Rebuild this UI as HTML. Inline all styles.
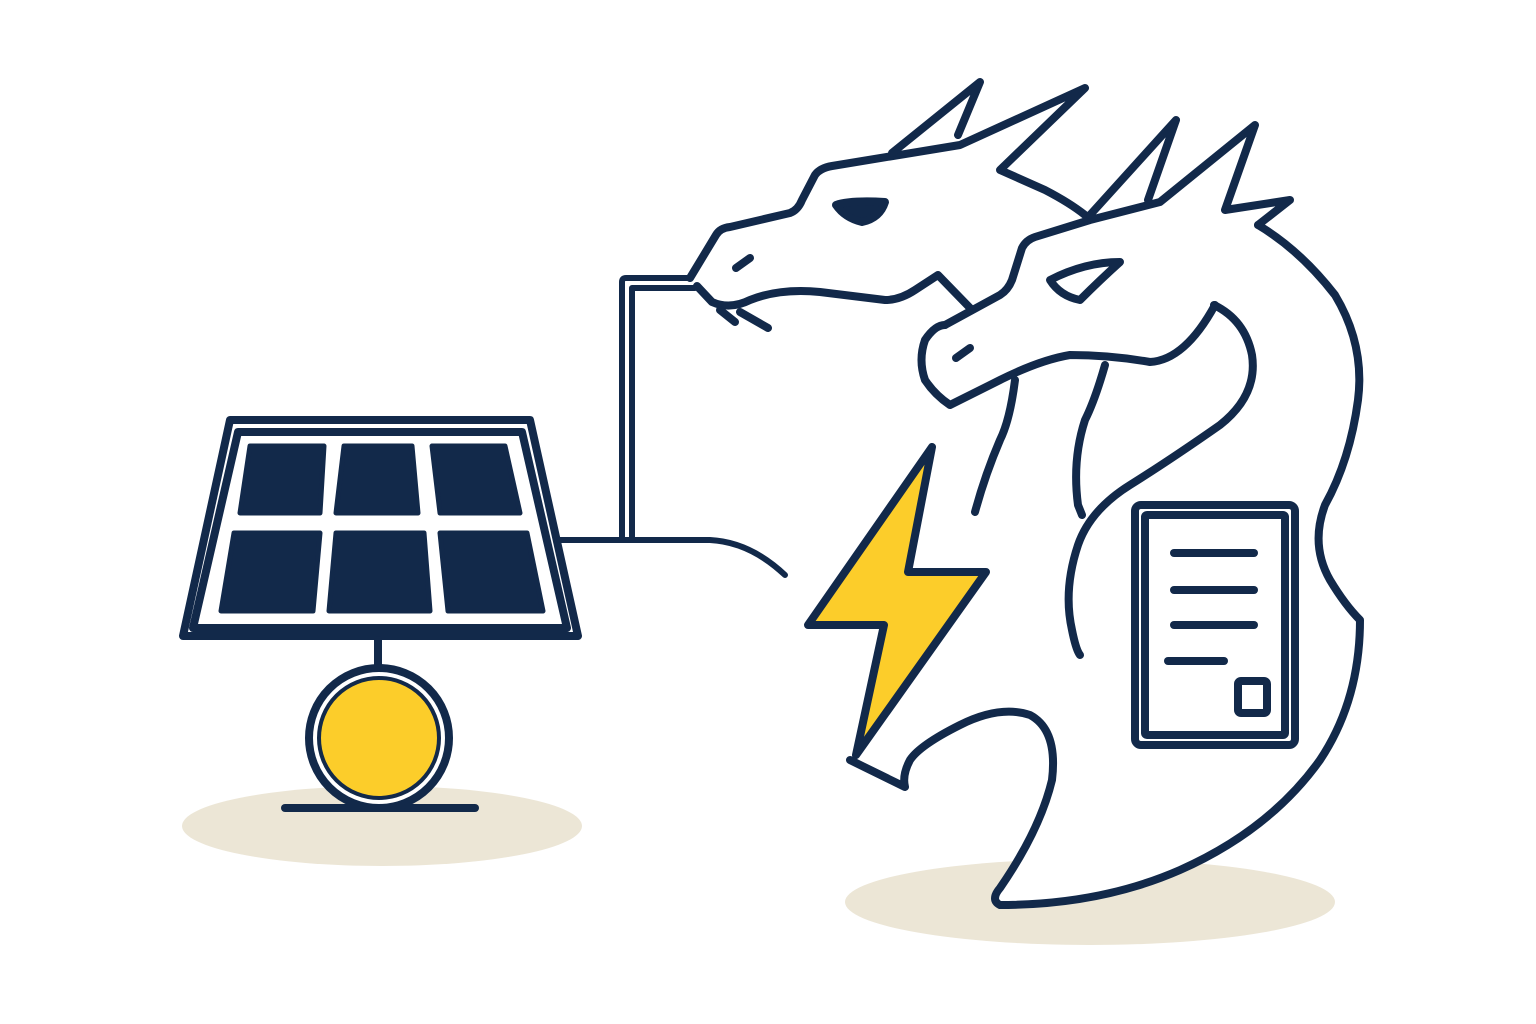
<!DOCTYPE html>
<html><head><meta charset="utf-8"><style>html,body{margin:0;padding:0;background:#fff}svg{display:block}</style></head>
<body>
<svg width="1536" height="1024" viewBox="0 0 1536 1024" xmlns="http://www.w3.org/2000/svg">
<g fill="none" stroke="#12294a" stroke-width="8" stroke-linecap="round" stroke-linejoin="round">
<!-- shadows -->
<ellipse cx="382" cy="826" rx="200" ry="40" fill="#ece6d6" stroke="none"/>
<ellipse cx="1090" cy="902" rx="245" ry="43" fill="#ece6d6" stroke="none"/>
<path d="M1360,620 Q1360,700 1320,760 Q1270,830 1180,870 Q1100,905 1000,905 Q990,900 1000,888 Q1040,830 1052,780 L1100,700 L1300,700 Z" fill="#fff" stroke="none"/>
<!-- solar panel -->
<polygon points="230,420 530,420 578,636 183,636" fill="#fff"/>
<polygon points="238,432 522,432 567,628 193,628"/>
<g fill="#12294a" stroke-width="5">
<polygon points="250,446 324,446 320,513 240,513"/>
<polygon points="344,446 412,446 418,513 336,513"/>
<polygon points="432,446 505,446 520,513 440,513"/>
<polygon points="234,533 320,533 313,611 221,611"/>
<polygon points="336,533 424,533 430,611 329,611"/>
<polygon points="440,533 527,533 543,611 448,611"/>
</g>
<line x1="378" y1="640" x2="378" y2="670"/>
<circle cx="379" cy="738" r="70" fill="#fff"/>
<circle cx="379" cy="738" r="60" fill="#fccd2a" stroke-width="4"/>
<line x1="285" y1="808" x2="475" y2="808"/>
<!-- wires -->
<path d="M557,540 L710,540 Q750,542 785,575" stroke-width="6"/>
<path d="M622,538 L622,282 Q622,278 626,278 L690,278" stroke-width="6"/>
<path d="M632,538 L632,288 L695,288" stroke-width="6"/>
<!-- bolt -->
<polygon points="932,447 908,572 986,572 856,755 884,625 808,625" fill="#fccd2a"/>
<!-- document -->
<rect x="1135" y="505" width="160" height="240" rx="6" fill="#fff"/>
<rect x="1145" y="515" width="140" height="220" rx="2"/>
<g stroke-width="8">
<line x1="1174" y1="553" x2="1254" y2="553"/>
<line x1="1174" y1="590" x2="1254" y2="590"/>
<line x1="1174" y1="625" x2="1254" y2="625"/>
<line x1="1168" y1="661" x2="1224" y2="661"/>
</g>
<rect x="1238" y="681" width="29" height="32" rx="3"/>
<!-- dragon body -->
<path d="M1258,225 Q1300,250 1335,295 Q1365,345 1358,400 Q1350,460 1325,505 Q1310,545 1330,580 Q1345,605 1360,620 Q1360,700 1320,760 Q1270,830 1180,870 Q1100,905 1000,905 Q990,900 1000,888 Q1040,830 1052,780 Q1058,730 1030,715 Q1000,705 960,725 Q920,745 910,760 Q902,775 905,787 L850,760"/>
<path d="M1214,305 Q1245,320 1252,355 Q1258,395 1220,425 Q1170,460 1130,485 Q1090,510 1078,545 Q1063,590 1072,630 Q1076,650 1080,655"/>
<path d="M1105,365 Q1095,400 1085,420 Q1072,460 1078,505 L1082,515"/>
<path d="M1015,380 Q1010,420 1000,440 Q985,475 975,512"/>
<!-- head 1 -->
<path d="M690,278 L716,235 Q720,228 730,227 L790,213 Q798,210 802,200 L815,175 Q820,168 832,166 L960,145 L1085,88 L1000,170 L1045,190 Q1070,203 1085,215"/>
<path d="M892,153 L980,82 L958,135"/>
<path d="M697,286 L712,302 Q730,310 750,300 Q780,288 820,292 L885,300 Q900,300 915,290 L938,275 L972,310"/>
<path d="M720,310 L735,322 M740,312 L768,328"/>
<path d="M836,205 Q850,200 885,202 Q880,218 862,222 Q845,218 836,205 Z" fill="#12294a"/>
<path d="M736,268 L750,258"/>
<!-- head 2 -->
<path d="M945,325 Q935,325 925,340 Q918,360 925,380 Q935,395 950,405 L1000,380 Q1040,360 1070,355 Q1110,355 1150,362 Q1185,360 1215,305"/>
<path d="M945,325 L1000,295 Q1008,290 1012,280 L1022,248 Q1026,240 1035,237 L1090,220 L1160,202 L1255,125 L1225,210 L1290,200 L1258,225"/>
<path d="M1090,215 L1176,120 L1148,200"/>
<path d="M1050,280 Q1085,262 1120,262 Q1100,280 1080,300 Q1060,296 1050,280 Z" fill="#fff"/>
<path d="M956,358 L970,348"/>
</g>
</svg>
</body></html>
